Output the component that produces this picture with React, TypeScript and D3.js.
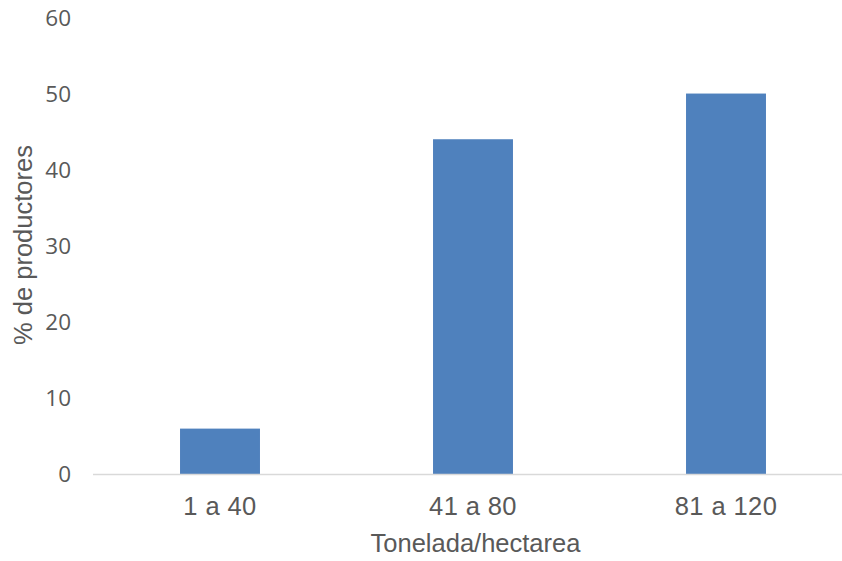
import React from "react";
import * as d3 from "d3";

const categories = ["1 a 40", "41 a 80", "81 a 120"];
const values = [6, 44, 50];
const yTicks = [0, 10, 20, 30, 40, 50, 60];
const xTitle = "Tonelada/hectarea";
const yTitle = "% de productores";

const W = 842;
const H = 561;

export default function App() {
  const x = d3
    .scaleBand<string>()
    .domain(categories)
    .range([93.5, 852.5])
    .paddingInner(0.684)
    .paddingOuter(0.342);
  const y = d3.scaleLinear().domain([0, 60]).range([474.3, 17.4]);
  const textColor = "#595959";
  const sans = "'Liberation Sans', Arial, sans-serif";
  return (
    <svg
      width={W}
      height={H}
      style={{ position: "absolute", left: 0, top: 0, background: "#fff" }}
    >
      {yTicks.map((t) => (
        <text
          key={t}
          x={71}
          y={y(t)}
          dy="0.36em"
          textAnchor="end"
          fontFamily="'Open Sans', sans-serif"
          fontSize={22.5}
          fill={textColor}
        >
          {t}
        </text>
      ))}
      {categories.map((c, i) => (
        <rect
          key={c}
          x={x(c)}
          y={y(values[i])}
          width={x.bandwidth()}
          height={y(0) - y(values[i])}
          fill="#4F81BD"
        />
      ))}
      <line x1={93} x2={W} y1={474.5} y2={474.5} stroke="#D9D9D9" strokeWidth={1.5} />
      {categories.map((c) => (
        <text
          key={c}
          x={(x(c) as number) + x.bandwidth() / 2}
          y={515}
          textAnchor="middle"
          fontFamily={sans}
          fontSize={25.5}
          letterSpacing={0.4}
          fill={textColor}
        >
          {c}
        </text>
      ))}
      <text
        x={475.5}
        y={552}
        textAnchor="middle"
        fontFamily={sans}
        fontSize={25.5}
        fill={textColor}
      >
        {xTitle}
      </text>
      <text
        transform={`translate(32,245) rotate(-90)`}
        textAnchor="middle"
        fontFamily={sans}
        fontSize={25.5}
        fill={textColor}
      >
        {yTitle}
      </text>
    </svg>
  );
}
